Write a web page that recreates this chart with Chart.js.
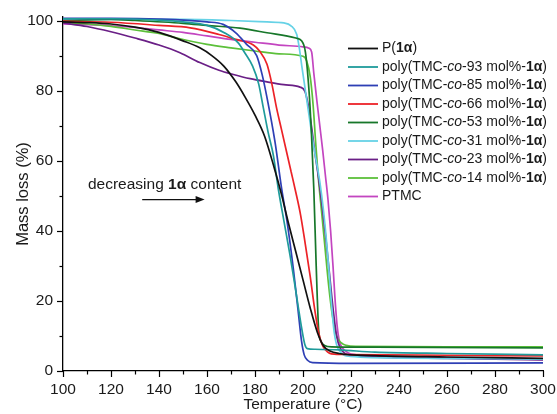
<!DOCTYPE html>
<html>
<head>
<meta charset="utf-8">
<script src="https://cdn.jsdelivr.net/npm/chart.js@4.4.1/dist/chart.umd.min.js"></script>
<style>
  html, body { margin: 0; padding: 0; background: #fff; }
  #wrap { width: 557px; height: 414px; position: relative; }
</style>
</head>
<body>
<div id="wrap"><canvas id="c" width="557" height="414"></canvas></div>
<script>
// ---- Data ----
const xTicks = [100, 120, 140, 160, 180, 200, 220, 240, 260, 280, 300];
const yTicks = [0, 20, 40, 60, 80, 100];

const tP1a   = [100, 110, 120, 130, 140, 150, 157, 162, 167, 172, 176, 180, 184, 188, 191, 194, 197, 200, 203, 206, 208.5, 211, 215, 230, 260, 300];
const mP1a   = [99.6, 99.4, 99.0, 98.1, 96.6, 94.2, 92.2, 90.0, 87.0, 82.5, 78.0, 73.0, 67.0, 58.0, 50.5, 42.0, 34.0, 26.0, 18.0, 11.0, 7.2, 5.8, 5.0, 4.4, 4.0, 3.6];

const t93    = [100, 120, 140, 150, 160, 167, 173, 176, 179, 181.5, 183.5, 185.5, 187.6, 189.7, 192, 194.6, 196.5, 198, 199.5, 200.8, 201.8, 205, 215, 230, 260, 300];
const m93    = [100.5, 100.5, 100.1, 99.6, 98.6, 96.6, 93.6, 90.5, 87.0, 82.0, 75.0, 68.0, 61.7, 52.0, 43.0, 33.0, 25.0, 18.4, 12.0, 7.5, 6.4, 6.2, 6.0, 5.4, 5.0, 4.6];

const t85    = [100, 120, 140, 160, 166.7, 172, 176.5, 180.7, 183, 185, 188.3, 191.1, 193.5, 196, 198, 199.4, 200.5, 202, 204, 220, 300];
const m85    = [100.6, 100.6, 100.4, 99.6, 98.9, 96.5, 93.2, 90.0, 84.5, 78.0, 65.5, 52.0, 42.0, 29.0, 17.0, 8.5, 4.6, 3.0, 2.4, 2.2, 2.3];

const t66    = [100, 120, 140, 153, 165, 172, 179.3, 182, 185, 187, 189, 191, 193, 195, 197, 199, 201, 203, 205, 206.5, 208, 209.5, 211, 213, 220, 260, 300];
const m66    = [99.8, 99.5, 98.6, 97.9, 96.0, 94.6, 93.0, 91.2, 87.5, 82.0, 75.0, 69.0, 63.0, 57.0, 51.0, 44.5, 36.0, 27.0, 17.0, 11.0, 7.5, 5.9, 5.1, 4.8, 4.7, 4.5, 4.3];

const t53    = [100, 120, 130, 150, 160, 173.75, 185, 197, 199.4, 201, 202.5, 203.5, 204.5, 205.5, 206.5, 207.5, 209, 212, 230, 300];
const m53    = [100.0, 100.3, 100.0, 99.2, 98.6, 97.8, 96.5, 95.0, 94.2, 91.0, 80.0, 68.0, 52.0, 30.0, 12.0, 8.5, 7.3, 6.9, 6.8, 6.6];

const t31    = [100, 150, 170, 185, 192, 195, 197.4, 198.5, 199.5, 201, 202.5, 204, 205.5, 207, 208.5, 209.8, 211, 212, 213, 214, 215.5, 218, 240, 300];
const m31    = [100.3, 100.3, 100.0, 99.6, 99.3, 98.5, 96.0, 92.0, 87.0, 80.0, 73.0, 66.0, 60.0, 54.0, 46.0, 37.0, 27.0, 18.0, 11.0, 7.5, 5.5, 4.3, 3.7, 3.4];

const t23    = [100, 110, 120, 130, 140, 148.75, 157, 165, 171, 178, 185, 192, 198.75, 200.8, 202, 203.5, 205, 206.5, 208, 209.5, 211, 212.5, 214, 215.5, 217.5, 222, 260, 300];
const m23    = [99.3, 98.3, 96.8, 95.0, 93.0, 90.8, 88.0, 85.8, 84.6, 83.4, 82.5, 81.7, 81.0, 79.8, 76.5, 70.0, 62.0, 55.0, 47.0, 38.0, 28.0, 18.0, 10.0, 6.5, 5.0, 4.3, 3.6, 3.2];

const t14    = [100, 110, 120, 130, 140, 148.75, 160, 170, 180, 190, 200, 201.5, 203, 204.2, 205.3, 206.4, 207.8, 209.2, 210.6, 212.2, 214, 216, 218, 222, 260, 300];
const m14    = [99.3, 99.0, 98.3, 97.3, 96.3, 94.8, 93.2, 92.2, 91.3, 90.5, 89.8, 88.5, 84.0, 76.0, 65.0, 55.0, 45.0, 35.0, 25.0, 16.0, 10.0, 8.0, 7.3, 7.0, 6.9, 6.9];

const tPTMC  = [100, 110, 120, 130, 140, 150, 160, 170, 180, 190, 200, 202.5, 203.6, 204.5, 205.8, 207, 208.2, 209.3, 210.4, 211.5, 212.5, 213.3, 214.2, 215, 216, 217.5, 220, 240, 300];
const mPTMC  = [99.0, 98.8, 98.5, 98.0, 97.3, 96.6, 95.6, 94.6, 93.8, 93.0, 92.5, 92.1, 91.0, 85.0, 77.0, 70.0, 63.0, 56.0, 49.0, 40.0, 30.0, 21.0, 13.0, 9.0, 7.0, 5.8, 4.8, 4.0, 3.3];

// legend label pieces: [text, style]  (n normal, b bold, i italic)
const labP1a  = [["P(", "n"], ["1\u03b1", "b"], [")", "n"]];
function polyLabel(p) { return [["poly(TMC-", "n"], ["co", "i"], ["-" + p + " mol%-", "n"], ["1\u03b1", "b"], [")", "n"]]; }
const labPTMC = [["PTMC", "n"]];

const seriesColors = ["#111111", "#1f9b9b", "#2e3fb5", "#ec2227", "#17772a", "#66d2e6", "#6a1f86", "#5cc03a", "#c345c0"];

function pts(t, m) { return t.map((v, i) => ({ x: v, y: m[i] })); }

const seriesList = [
  { lab: labP1a, t: tP1a, m: mP1a },
  { lab: polyLabel(93), t: t93, m: m93 },
  { lab: polyLabel(85), t: t85, m: m85 },
  { lab: polyLabel(66), t: t66, m: m66 },
  { lab: polyLabel(53), t: t53, m: m53 },
  { lab: polyLabel(31), t: t31, m: m31 },
  { lab: polyLabel(23), t: t23, m: m23 },
  { lab: polyLabel(14), t: t14, m: m14 },
  { lab: labPTMC, t: tPTMC, m: mPTMC }
];

const FONT = "'Liberation Sans', Arial, Helvetica, sans-serif";
const TXT = "#1a1a1a";

function fontFor(style, size) {
  if (style === "b") return "bold " + size + "px " + FONT;
  if (style === "i") return "italic " + size + "px " + FONT;
  return size + "px " + FONT;
}
function drawRich(ctx, pieces, x, y, size) {
  let cx = x;
  for (const [txt, st] of pieces) {
    ctx.font = fontFor(st, size);
    ctx.fillText(txt, cx, y);
    cx += ctx.measureText(txt).width;
  }
  return cx;
}

const extras = {
  id: "extras",
  afterDraw(chart) {
    const ctx = chart.ctx;
    const xs = chart.scales.x, ys = chart.scales.y;
    const area = chart.chartArea;
    ctx.save();
    ctx.strokeStyle = "#000";
    ctx.lineWidth = 1.2;
    // x tick marks (major/minor)
    for (let v = 100; v <= 300; v += 10) {
      const px = Math.round(xs.getPixelForValue(v)) + 0.5;
      const len = v % 20 === 0 ? 6 : 3.5;
      ctx.beginPath(); ctx.moveTo(px, area.bottom); ctx.lineTo(px, area.bottom + len); ctx.stroke();
    }
    for (let v = 0; v <= 100; v += 10) {
      const py = Math.round(ys.getPixelForValue(v)) + 0.5;
      const len = v % 20 === 0 ? 6 : 3.5;
      ctx.beginPath(); ctx.moveTo(area.left, py); ctx.lineTo(area.left - len, py); ctx.stroke();
    }
    // legend
    ctx.textBaseline = "middle";
    ctx.fillStyle = TXT;
    const lx0 = 348, lx1 = 378, tx = 382, y0 = 48.5, dy = 18.5;
    chart.data.datasets.forEach((ds, i) => {
      const y = y0 + i * dy;
      ctx.strokeStyle = ds.borderColor;
      ctx.lineWidth = 1.8;
      ctx.beginPath(); ctx.moveTo(lx0, y); ctx.lineTo(lx1, y); ctx.stroke();
      ctx.fillStyle = TXT;
      drawRich(ctx, seriesList[i].lab, tx, y, 14);
    });
    // annotation
    const ax = xs.getPixelForValue(110.4), ay = ys.getPixelForValue(53.2);
    ctx.fillStyle = TXT;
    drawRich(ctx, [["decreasing ", "n"], ["1\u03b1", "b"], [" content", "n"]], ax, ay, 15.5);
    const a0 = xs.getPixelForValue(133), a1 = xs.getPixelForValue(159), ary = ys.getPixelForValue(48.9);
    ctx.strokeStyle = "#111"; ctx.lineWidth = 1.3;
    ctx.beginPath(); ctx.moveTo(a0, ary); ctx.lineTo(a1 - 6, ary); ctx.stroke();
    ctx.fillStyle = "#111";
    ctx.beginPath(); ctx.moveTo(a1, ary); ctx.lineTo(a1 - 9, ary - 3.5); ctx.lineTo(a1 - 9, ary + 3.5); ctx.closePath(); ctx.fill();
    ctx.restore();
  }
};

new Chart(document.getElementById("c"), {
  type: "line",
  data: {
    datasets: seriesList.map((s, i) => ({
      label: s.lab.map(p => p[0]).join(""),
      data: pts(s.t, s.m),
      borderColor: seriesColors[i],
      backgroundColor: seriesColors[i],
      borderWidth: 1.7,
      pointRadius: 0,
      fill: false,
      cubicInterpolationMode: "monotone"
    }))
  },
  options: {
    responsive: false,
    animation: false,
    layout: { padding: { top: 17, right: 14, left: 0, bottom: 0 } },
    plugins: { legend: { display: false }, tooltip: { enabled: false } },
    scales: {
      x: {
        type: "linear", min: 100, max: 300,
        afterBuildTicks: s => { s.ticks = xTicks.map(v => ({ value: v })); },
        afterFit: s => { s.height = 43; s.paddingLeft = 0; s.paddingRight = 0; },
        ticks: { autoSkip: false, maxRotation: 0, padding: 9, color: TXT, font: { family: FONT, size: 15.5 } },
        grid: { display: false, drawTicks: false, tickLength: 0 },
        border: { display: true, color: "#000", width: 1.3 },
        title: { display: true, text: "Temperature (\u00b0C)", color: TXT, font: { family: FONT, size: 15.5 }, padding: { top: 0, bottom: 0 } }
      },
      y: {
        type: "linear", min: 0, max: 101,
        afterBuildTicks: s => { s.ticks = yTicks.map(v => ({ value: v })); },
        afterFit: s => { s.width = 63; s.paddingTop = 0; s.paddingBottom = 0; },
        ticks: { padding: 10, color: TXT, font: { family: FONT, size: 15.5 } },
        grid: { display: false, drawTicks: false, tickLength: 0 },
        border: { display: true, color: "#000", width: 1.3 },
        title: { display: true, text: "Mass loss (%)", color: TXT, font: { family: FONT, size: 16.5 }, padding: { top: 13.5, bottom: 0 } }
      }
    }
  },
  plugins: [extras]
});
</script>
</body>
</html>
